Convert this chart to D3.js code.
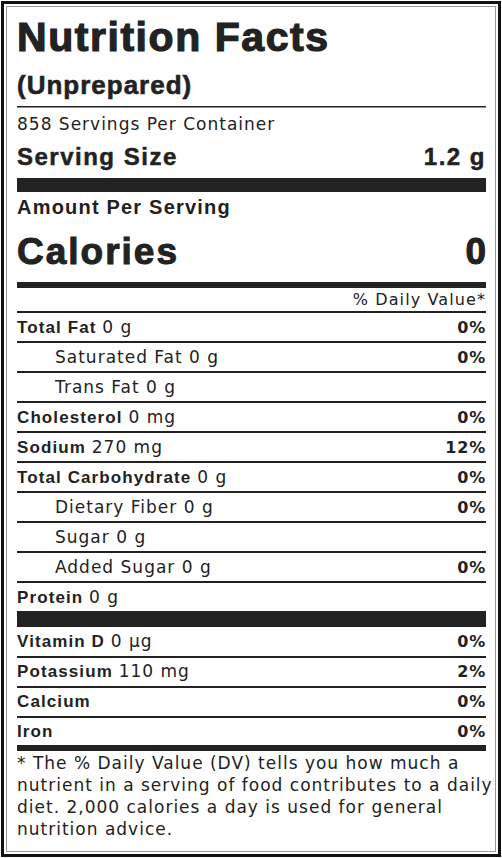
<!DOCTYPE html><html><head><meta charset="utf-8"><script src="https://cdn.jsdelivr.net/npm/d3@7"></script>
<style>body{margin:0;background:#fff}</style></head><body><svg id="c" width="502" height="858"></svg>
<script>
const nutrients = ["Total Fat","Saturated Fat","Trans Fat","Cholesterol","Sodium","Total Carbohydrate","Dietary Fiber","Sugar","Added Sugar","Protein"];
const amounts = ["0 g","0 g","0 g","0 mg","270 mg","0 g","0 g","0 g","0 g","0 g"];
const dailyValues = ["0%","0%","","0%","12%","0%","0%","","0%",""];
const indented = [false,true,true,false,false,false,true,true,true,false];
const minerals = ["Vitamin D","Potassium","Calcium","Iron"];
const mineralAmounts = ["0 µg","110 mg","",""];
const mineralDV = ["0%","2%","0%","0%"];
const footnote = ["* The % Daily Value (DV) tells you how much a","nutrient in a serving of food contributes to a daily","diet. 2,000 calories a day is used for general","nutrition advice."];

const svg = d3.select("#c");
const L=17,R=486,C="#222";
const F="'DejaVu Sans',sans-serif", B="'Liberation Sans',Arial,sans-serif";
svg.append("rect").attr("x",2.5).attr("y",2.5).attr("width",497).attr("height",853).attr("fill","none").attr("stroke","#111").attr("stroke-width",3);
svg.append("rect").attr("x",6.5).attr("y",6.5).attr("width",489).attr("height",845).attr("fill","none").attr("stroke","#999").attr("stroke-width",1);
function t(x,y,s,size,font,weight,anchor,ls){return svg.append("text").attr("x",x).attr("y",y).text(s).attr("font-size",size).attr("font-family",font).attr("font-weight",weight||"normal").attr("text-anchor",anchor||"start").attr("letter-spacing",ls||0).attr("fill",C);}
function bar(y,h){svg.append("rect").attr("x",L).attr("y",y).attr("width",R-L).attr("height",h).attr("fill",C);}
t(L,51,"Nutrition Facts",41,B,"900").attr("textLength",311).attr("stroke",C).attr("stroke-width",1.2);
t(L,94,"(Unprepared)",26,B,"bold","start",1).attr("stroke",C).attr("stroke-width",0.6);
bar(106,1.5);
t(L,130,"858 Servings Per Container",17,F,"normal","start",1);
t(L,165,"Serving Size",24,B,"bold","start",1.5).attr("stroke",C).attr("stroke-width",0.5);
t(R,165,"1.2 g",24,B,"bold","end",1.5).attr("stroke",C).attr("stroke-width",0.5);
bar(178,14);
t(L,214,"Amount Per Serving",20,B,"bold","start",1.2);
t(L,264,"Calories",37,B,"900","start",2).attr("stroke",C).attr("stroke-width",1);
t(R,264,"0",37,B,"900","end").attr("stroke",C).attr("stroke-width",1);
bar(282,6);
t(R,305,"% Daily Value*",16,F,"normal","end",1.1);
const y = d3.scaleBand().domain(d3.range(nutrients.length)).range([312,612]);
bar(311,2);
nutrients.forEach((n,i)=>{
  const yy=y(i), base=yy+y.bandwidth()-9, x=indented[i]?55:L;
  const tx=t(x,base,"",17,F,"normal","start",1);
  if(indented[i]) tx.text(n+" "+amounts[i]);
  else {tx.append("tspan").attr("font-weight","bold").attr("font-family",B).attr("font-size",17).attr("letter-spacing",1.1).text(n+" ");tx.append("tspan").text(amounts[i]);}
  if(dailyValues[i]) t(R,base,dailyValues[i],16,F,"bold","end",0.8);
  if(i<nutrients.length-1) bar(yy+y.bandwidth()-1,2);
});
bar(611,16);
const y2=d3.scaleBand().domain(d3.range(minerals.length)).range([627,747]);
minerals.forEach((n,i)=>{
  const yy=y2(i), base=yy+y2.bandwidth()-10;
  const tx=t(L,base,"",17,F,"normal","start",1);
  tx.append("tspan").attr("font-weight","bold").attr("font-family",B).attr("font-size",17).attr("letter-spacing",1.1).text(n+(mineralAmounts[i]?" ":""));
  tx.append("tspan").text(mineralAmounts[i]);
  t(R,base,mineralDV[i],16,F,"bold","end",0.8);
  if(i<minerals.length-1) bar(yy+y2.bandwidth()-1,2);
});
bar(745,6);
footnote.forEach((s,i)=>t(L,769+i*22,s,17,F,"normal","start",1));
</script></body></html>
